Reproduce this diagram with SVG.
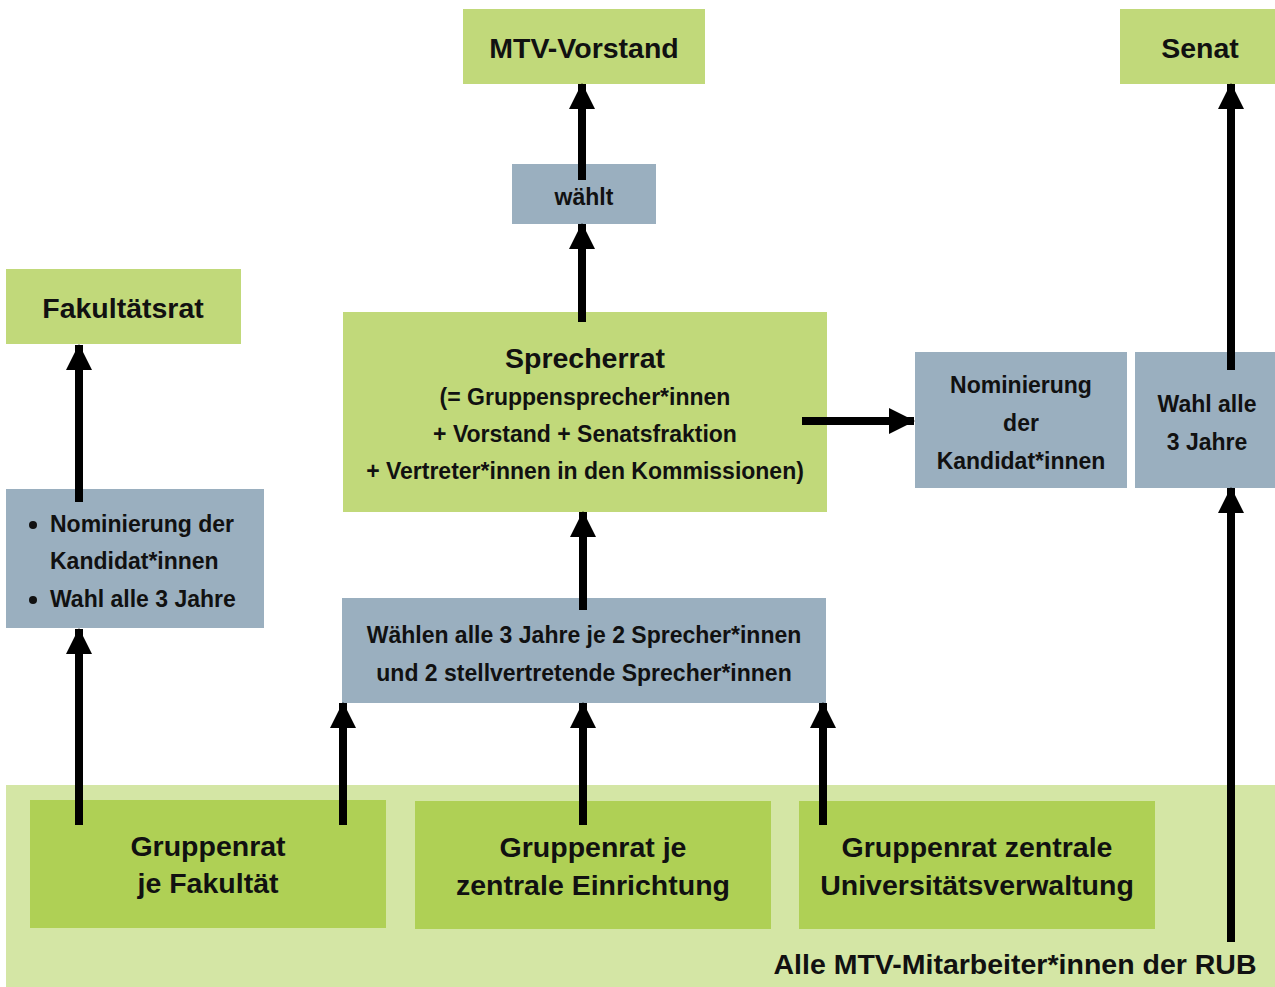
<svg xmlns="http://www.w3.org/2000/svg" width="1275" height="987" viewBox="0 0 1275 987">
<style>
text{font-family:"Liberation Sans",Arial,sans-serif;font-weight:bold;fill:#111;text-anchor:middle}
.t{font-size:28.5px}
.s{font-size:23px}
.g{fill:#C1D97A}
.d{fill:#AFD055}
.p{fill:#D4E6A5}
.b{fill:#9AAFBF}
.c{stroke:#000;stroke-width:8;fill:none;marker-end:url(#ah)}
</style>
<defs>
<marker id="ah" markerUnits="userSpaceOnUse" markerWidth="26" markerHeight="26" viewBox="0 0 26 26" refX="25" refY="13" orient="auto">
<path d="M0,0 L26,13 L0,26 Z" fill="#000"/>
</marker>
</defs>
<rect width="1275" height="987" fill="#fff"/>
<g id="alle"><rect class="p" x="6" y="785" width="1269" height="202"/><text class="t" x="1015" y="974">Alle MTV-Mitarbeiter*innen der RUB</text></g>
<g id="mtv"><rect class="g" x="463" y="9" width="242" height="75"/><text class="t" x="584" y="58">MTV-Vorstand</text></g>
<g id="senat"><rect class="g" x="1120" y="9" width="155" height="75"/><text class="t" x="1200" y="58">Senat</text></g>
<g id="waehlt"><rect class="b" x="512" y="164" width="144" height="60"/><text class="s" x="584" y="205">wählt</text></g>
<g id="fakrat"><rect class="g" x="6" y="269" width="235" height="75"/><text class="t" x="123" y="318">Fakultätsrat</text></g>
<g id="sprecherrat"><rect class="g" x="343" y="312" width="484" height="200"/>
<text class="t" x="585" y="368">Sprecherrat</text>
<text class="s" x="585" y="405">(= Gruppensprecher*innen</text>
<text class="s" x="585" y="442">+ Vorstand + Senatsfraktion</text>
<text class="s" x="585" y="479">+ Vertreter*innen in den Kommissionen)</text></g>
<g id="nominierung"><rect class="b" x="915" y="352" width="212" height="136"/>
<text class="s" x="1021" y="393">Nominierung</text><text class="s" x="1021" y="431">der</text><text class="s" x="1021" y="469">Kandidat*innen</text></g>
<g id="wahl"><rect class="b" x="1135" y="352" width="140" height="136"/>
<text class="s" x="1207" y="412">Wahl alle</text><text class="s" x="1207" y="450">3 Jahre</text></g>
<g id="bullets"><rect class="b" x="6" y="489" width="258" height="139"/>
<circle cx="33" cy="525" r="4" fill="#111"/><circle cx="33" cy="600" r="4" fill="#111"/>
<text class="s" x="50" y="532" style="text-anchor:start">Nominierung der</text>
<text class="s" x="50" y="569" style="text-anchor:start">Kandidat*innen</text>
<text class="s" x="50" y="607" style="text-anchor:start">Wahl alle 3 Jahre</text></g>
<g id="waehlen"><rect class="b" x="342" y="598" width="484" height="105"/>
<text class="s" x="584" y="643">Wählen alle 3 Jahre je 2 Sprecher*innen</text>
<text class="s" x="584" y="681">und 2 stellvertretende Sprecher*innen</text></g>
<g id="gr1"><rect class="d" x="30" y="800" width="356" height="128"/>
<text class="t" x="208" y="856">Gruppenrat</text><text class="t" x="208" y="893">je Fakultät</text></g>
<g id="gr2"><rect class="d" x="415" y="801" width="356" height="128"/>
<text class="t" x="593" y="857">Gruppenrat je</text><text class="t" x="593" y="895">zentrale Einrichtung</text></g>
<g id="gr3"><rect class="d" x="799" y="801" width="356" height="128"/>
<text class="t" x="977" y="857">Gruppenrat zentrale</text><text class="t" x="977" y="895">Universitätsverwaltung</text></g>
<g id="connectors">
<path class="c" d="M582,180 V84"/>
<path class="c" d="M582,322 V224"/>
<path class="c" d="M79,502 V345"/>
<path class="c" d="M79,825 V629"/>
<path class="c" d="M343,825 V703"/>
<path class="c" d="M583,825 V703"/>
<path class="c" d="M823,825 V703"/>
<path class="c" d="M583,610 V512"/>
<path class="c" d="M802,421 H914"/>
<path class="c" d="M1231,370 V84"/>
<path class="c" d="M1231,942 V488"/>
</g>
</svg>
